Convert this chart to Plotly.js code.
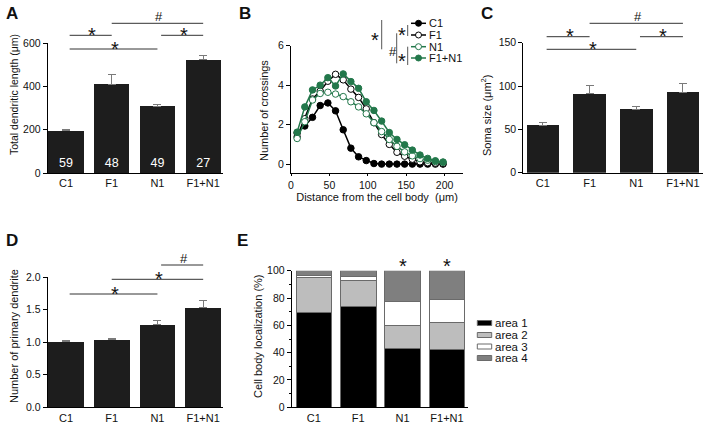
<!DOCTYPE html>
<html><head><meta charset="utf-8">
<script src="https://cdn.plot.ly/plotly-3.0.1.min.js"></script>
<style>html,body{margin:0;padding:0;background:#fff}</style>
</head><body><div id="chart" style="width:707px;height:424px"></div>
<script>
// ---------------- data ----------------
const categories = ['C1', 'F1', 'N1', 'F1+N1'];
const dendriteLength = [195, 410, 308, 525];
const dendriteLengthErr = [8, 45, 8, 17];
const cellCounts = ['59', '48', '49', '27'];
const somaSize = [55, 91, 73, 93];
const somaSizeErr = [3, 10, 3.5, 9.5];
const primaryDendrites = [1.01, 1.04, 1.27, 1.53];
const primaryDendritesErr = [0.02, 0.015, 0.06, 0.11];
const distance = [8, 18, 28, 38, 48, 58, 68, 78, 88, 98, 108, 118, 128, 138, 148, 158, 168, 178, 188, 198];
const crossingsC1 = [1.58, 1.93, 2.37, 2.97, 3.1, 2.7, 1.74, 0.81, 0.37, 0.18, 0.03, 0, 0, 0, 0, 0, 0, 0, 0, 0];
const crossingsF1 = [1.38, 2.3, 3.3, 3.7, 4.2, 4.55, 4.27, 3.8, 3.38, 2.8, 2.1, 1.5, 1.0, 0.6, 0.4, 0.25, 0.12, 0.07, 0.05, 0.03];
const crossingsN1 = [1.3, 2.15, 3.25, 3.58, 3.64, 3.55, 3.42, 3.16, 2.9, 2.55, 2.1, 1.65, 1.25, 0.9, 0.62, 0.42, 0.28, 0.2, 0.13, 0.1];
const crossingsF1N1 = [1.62, 2.9, 3.76, 4.0, 4.38, 3.96, 4.57, 4.18, 3.84, 3.16, 2.72, 2.18, 1.6, 1.25, 0.98, 0.71, 0.46, 0.29, 0.17, 0.1];
const areaLabels = ['area 1', 'area 2', 'area 3', 'area 4'];
const area1 = [69.5, 74, 43.4, 42];
const area2 = [25.5, 18.5, 16.6, 20.2];
const area3 = [1.8, 3.2, 17.3, 16.8];
const area4 = [3.2, 4.3, 22.7, 21];
const seriesLabels = ['C1', 'F1', 'N1', 'F1+N1'];
const yTitles = ['Total dendritic length (μm)', 'Number of crossings', 'Soma size (μm<sup>2</sup>)', 'Number of primary dendrite', 'Cell body localization (%)'];
const xTitleB = 'Distance from the cell body  (μm)';

// ---------------- styles ----------------
const W = 707, H = 424;
const FONT = 'Liberation Sans, Arial, sans-serif';
const BAR = '#1d1d1d';
const ERR = '#7a7a7a';
const GREEN = '#23784b';
const areaColors = ['#000000', '#bdbdbd', '#ffffff', '#7f7f7f'];
const px = v => v / W;
const py = v => 1 - v / H;

function axisBase(extra) {
  return Object.assign({
    showline: true, linecolor: '#000', linewidth: 1,
    ticks: 'outside', ticklen: 4, tickcolor: '#000', tickwidth: 1,
    showgrid: false, zeroline: false, fixedrange: true,
    tickfont: { family: FONT, size: 10.5, color: '#111' }
  }, extra);
}

const traces = [];
// Panel A
traces.push({
  type: 'bar', x: categories, y: dendriteLength, xaxis: 'x', yaxis: 'y', width: 0.77,
  marker: { color: BAR, line: { width: 0 } },
  error_y: { type: 'data', symmetric: false, array: dendriteLengthErr, arrayminus: dendriteLengthErr.map(() => 0), color: ERR, thickness: 1, width: 4 },
  text: cellCounts, textposition: 'inside', insidetextanchor: 'start',
  textfont: { family: FONT, size: 12.5, color: '#fff' }, showlegend: false
});
// Panel B
const bSeries = [
  { y: crossingsC1, line: '#000', fill: '#000' },
  { y: crossingsF1, line: '#000', fill: '#fff' },
  { y: crossingsN1, line: GREEN, fill: '#fff' },
  { y: crossingsF1N1, line: GREEN, fill: GREEN }
];
bSeries.forEach((s, i) => traces.push({
  type: 'scatter', mode: 'lines+markers', x: distance, y: s.y, xaxis: 'x2', yaxis: 'y2', name: seriesLabels[i],
  line: { color: s.line, width: 1.5 },
  marker: { symbol: 'circle', size: 6.5, color: s.fill, line: { color: s.line, width: 1 } },
  showlegend: false
}));
// Panel C
traces.push({
  type: 'bar', x: categories, y: somaSize, xaxis: 'x3', yaxis: 'y3', width: 0.7,
  marker: { color: BAR },
  error_y: { type: 'data', symmetric: false, array: somaSizeErr, arrayminus: somaSizeErr.map(() => 0), color: ERR, thickness: 1, width: 4 },
  showlegend: false
});
// Panel D
traces.push({
  type: 'bar', x: categories, y: primaryDendrites, xaxis: 'x4', yaxis: 'y4', width: 0.78,
  marker: { color: BAR },
  error_y: { type: 'data', symmetric: false, array: primaryDendritesErr, arrayminus: primaryDendritesErr.map(() => 0), color: ERR, thickness: 1, width: 4 },
  showlegend: false
});
// Panel E
[area1, area2, area3, area4].forEach((a, i) => traces.push({
  type: 'bar', x: categories, y: a, xaxis: 'x5', yaxis: 'y5', width: 0.8, name: areaLabels[i],
  marker: { color: areaColors[i], line: { color: '#6a6a6a', width: 1 } }, showlegend: false
}));

const shapes = [];
const annotations = [];
function addText(x, y, text, opts) {
  annotations.push(Object.assign({
    x: x, y: y, xref: 'paper', yref: 'paper', text: text, showarrow: false,
    xanchor: 'center', yanchor: 'middle', font: { family: FONT, size: 11, color: '#111' }
  }, opts || {}));
}
function sig(xref, i, j, lineY, label) {
  const x0 = i === 1 && j === 3 ? i : i + 0.08;
  shapes.push({ type: 'line', xref: xref, yref: 'paper', x0: x0, x1: j, y0: py(lineY), y1: py(lineY), line: { color: '#333', width: 1 } });
  const isStar = label === '*';
  annotations.push({
    x: (x0 + j) / 2 + 0.03, xref: xref, y: py(isStar ? lineY - 0.5 : lineY - 7), yref: 'paper',
    text: label, showarrow: false, xanchor: 'center', yanchor: 'middle',
    font: { family: FONT, size: isStar ? 20 : 13, color: '#111' }
  });
}
// significance, panel A
sig('x', 0, 1, 35.3, '*'); sig('x', 0, 2, 49, '*'); sig('x', 1, 3, 23.3, '#'); sig('x', 2, 3, 35.3, '*');
// panel C
sig('x3', 0, 1, 36.7, '*'); sig('x3', 0, 2, 49.3, '*'); sig('x3', 1, 3, 23.3, '#'); sig('x3', 2, 3, 36.7, '*');
// panel D
sig('x4', 2, 3, 265, '#'); sig('x4', 1, 3, 279.3, '*'); sig('x4', 0, 2, 294, '*');
// panel E stars
[2, 3].forEach(k => annotations.push({
  x: k, xref: 'x5', y: py(261.7 + 4.5), yref: 'paper', text: '*', showarrow: false,
  xanchor: 'center', yanchor: 'middle', font: { family: FONT, size: 20, color: '#111' }
}));

// y-axis titles (rotated), placed as in the reference
[[14, 95, 10.5], [264, 111, 11], [486, 115, 11], [14, 336, 11], [258, 336, 11]].forEach((p, i) =>
  addText(px(p[0]), py(p[1]), yTitles[i], { textangle: -90, font: { family: FONT, size: p[2], color: '#111' } }));

// panel letters
[['A', 12, 13], ['B', 245, 13], ['C', 487, 13], ['D', 12, 240], ['E', 242, 240]].forEach(l =>
  addText(px(l[1]), py(l[2]), '<b>' + l[0] + '</b>', { font: { family: FONT, size: 17, color: '#111' } }));

// panel B legend (manual, compact)
const legRows = [23.3, 35, 46.7, 58];
bSeries.forEach((s, i) => {
  const yy = py(legRows[i]);
  shapes.push({ type: 'line', xref: 'paper', yref: 'paper', x0: px(411), x1: px(426), y0: yy, y1: yy, line: { color: s.line, width: 1.5 } });
  shapes.push({ type: 'circle', xref: 'paper', yref: 'paper', x0: px(415.5), x1: px(421.5), y0: py(legRows[i] + 3), y1: py(legRows[i] - 3), fillcolor: s.fill, line: { color: s.line, width: 1 } });
  addText(px(427), yy, seriesLabels[i], { xanchor: 'left', font: { family: FONT, size: 11, color: '#111' } });
});
// panel B brackets
[[381.7, 20, 49.3], [407.7, 25, 36], [396.7, 33.3, 63.3], [407.7, 46.7, 65]].forEach(b =>
  shapes.push({ type: 'line', xref: 'paper', yref: 'paper', x0: px(b[0]), x1: px(b[0]), y0: py(b[1]), y1: py(b[2]), line: { color: '#555', width: 1 } }));
addText(px(375), py(35 + 4.5), '*', { font: { family: FONT, size: 20, color: '#111' } });
addText(px(401.7), py(30 + 4.5), '*', { font: { family: FONT, size: 20, color: '#111' } });
addText(px(401.7), py(56.7 + 4.5), '*', { font: { family: FONT, size: 20, color: '#111' } });
addText(px(392.5), py(51.7), '#', { font: { family: FONT, size: 13, color: '#111' } });

// panel E legend (manual, compact)
const eRows = [323, 335, 346.5, 358];
areaLabels.forEach((lab, i) => {
  shapes.push({ type: 'rect', xref: 'paper', yref: 'paper', x0: px(477.3), x1: px(491.7), y0: py(eRows[i] + 2.5), y1: py(eRows[i] - 2.5), fillcolor: areaColors[i], line: { color: '#6a6a6a', width: 1 } });
  addText(px(493.3), py(eRows[i]), lab, { xanchor: 'left', font: { family: FONT, size: 11.5, color: '#111' } });
});

const catAxis = (dom, range, anchor) => axisBase({ type: 'category', domain: dom, range: range, anchor: anchor, ticks: '', tickfont: { family: FONT, size: 11, color: '#111' } });

const layout = {
  width: W, height: H, margin: { l: 0, r: 0, t: 0, b: 0 },
  paper_bgcolor: '#fff', plot_bgcolor: 'rgba(0,0,0,0)',
  barmode: 'stack', showlegend: false,
  font: { family: FONT, color: '#111' },
  // A
  xaxis: catAxis([px(47.7), px(223.3)], [-0.4, 3.44], 'y'),
  yaxis: axisBase({ domain: [py(173), py(43.3)], range: [0, 600], tickvals: [0, 200, 400, 600], anchor: 'x' }),
  // B
  xaxis2: axisBase({ domain: [px(291), px(463)], range: [0, 224], tickvals: [0, 50, 100, 150, 200], ticklen: 2, anchor: 'y2',
    title: { text: xTitleB, standoff: 3, font: { family: FONT, size: 11, color: '#111' } } }),
  yaxis2: axisBase({ domain: [py(173), py(45.7)], range: [-0.45, 6], tickvals: [0, 2, 4, 6], anchor: 'x2' }),
  // C
  xaxis3: catAxis([px(523.3), px(703)], [-0.42, 3.43], 'y3'),
  yaxis3: axisBase({ domain: [py(172.7), py(42.7)], range: [0, 150], tickvals: [0, 50, 100, 150], anchor: 'x3' }),
  // D
  xaxis4: catAxis([px(47.7), px(223.3)], [-0.4, 3.44], 'y4'),
  yaxis4: axisBase({ domain: [py(407.3), py(277.3)], range: [0, 2], tickvals: [0, 0.5, 1, 1.5, 2], tickformat: '.1f', anchor: 'x4' }),
  // E
  xaxis5: catAxis([px(291.7), px(468.3)], [-0.5, 3.48], 'y5'),
  yaxis5: axisBase({ domain: [py(407.3), py(270.7)], range: [0, 100], tickvals: [0, 20, 40, 60, 80, 100], anchor: 'x5',
    minor: { tickvals: [10, 30, 50, 70, 90], ticks: 'outside', ticklen: 2, tickcolor: '#000' } }),
  shapes: shapes, annotations: annotations
};

Plotly.newPlot('chart', traces, layout, { displayModeBar: false, staticPlot: true });
</script></body></html>
